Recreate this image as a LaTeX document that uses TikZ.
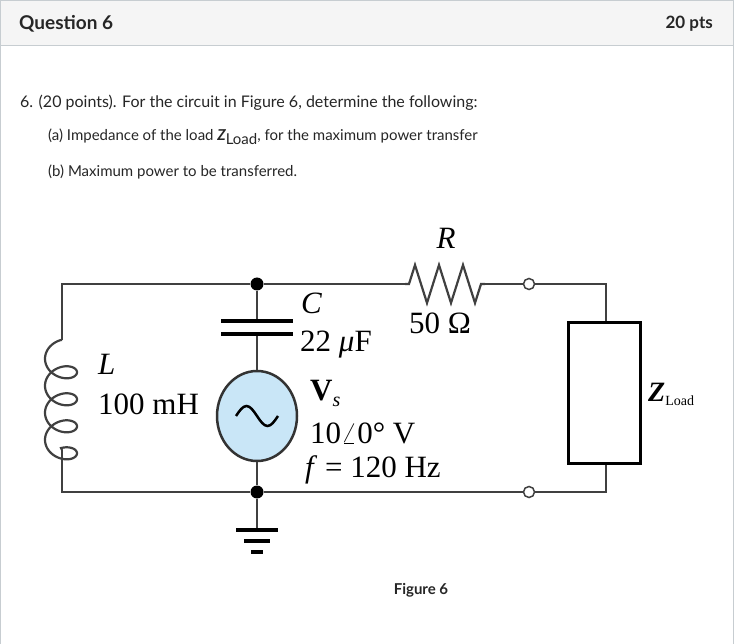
\documentclass[tikz,border=0pt]{standalone}
\usepackage{fontspec}
\setmainfont{Liberation Serif}
\newfontfamily\lato{Lato}
\usetikzlibrary{positioning,shapes.geometric}
\definecolor{hdrgray}{HTML}{F5F5F5}
\definecolor{brdgray}{HTML}{C7CDD1}
\definecolor{srcblue}{HTML}{C9E6F7}
\tikzset{
  wire/.style={line width=1.6pt,black!75},
  dot/.style={circle,fill=black,inner sep=0pt,minimum size=13pt},
  term/.style={circle,draw=black!75,line width=1.5pt,fill=white,inner sep=0pt,minimum size=11pt},
  ckt/.style={font=\fontsize{31}{33}\selectfont,inner sep=0pt,anchor=west},
  web/.style={font=\lato\fontsize{16}{18}\selectfont,inner sep=0pt,anchor=west,text=black!85}
}
\begin{document}
\begin{tikzpicture}[x=1pt,y=-1pt]
 \useasboundingbox (0,0) rectangle (734,644);
 % card and header
 \fill[white] (0,0) rectangle (734,644);
 \fill[hdrgray] (0,1) rectangle (733,46);
 \draw[brdgray,line width=1pt] (0.5,644) -- (0.5,1) -- (733.5,1) -- (733.5,644);
 \draw[brdgray,line width=1pt] (0.5,46) -- (733.5,46);
 \node[web,font=\lato\bfseries\fontsize{19}{21}\selectfont] (qtitle) at (19,24) {Question 6};
 \node[web,font=\lato\bfseries\fontsize{17}{19}\selectfont,anchor=east] (qpts) at (713,24) {20 pts};
 \node[web] (qtext) at (20,103) {6. (20 points). For the circuit in Figure 6, determine the following:};
 \node[web,font=\lato\fontsize{15}{17}\selectfont] (qa) at (48,137) {(a) Impedance of the load {\bfseries\itshape Z}\raisebox{-4pt}{Load}, for the maximum power transfer};
 \node[web,font=\lato\fontsize{15}{17}\selectfont] (qb) at (48,172) {(b) Maximum power to be transferred.};
 % junctions
 \coordinate (tl) at (62,284);
 \coordinate (bl) at (62,492);
 \coordinate (tr) at (606,284);
 \coordinate (br) at (606,492);
 \node[dot] (ntop) at (257,284) {};
 \node[dot] (nbot) at (257,492) {};
 \node[term] (ta) at (529,284) {};
 \node[term] (tb) at (529,492) {};
 \coordinate (ra) at (405,284);
 \coordinate (rb) at (485,284);
 \coordinate (ca) at (257,321);
 \coordinate (cb) at (257,334);
 \coordinate (la) at (62,340);
 \coordinate (lb) at (62,450);
 \coordinate (gnd) at (257,530);
 \node[draw=black,line width=3pt,minimum width=72pt,minimum height=140pt,inner sep=0pt] (zl) at (604,393) {};
 \node[ellipse,draw=black!80,line width=2.5pt,fill=srcblue,minimum width=80pt,minimum height=90pt,inner sep=0pt] (vs) at (257,416) {};
 % wires
 \draw[wire] (ra) -- (ntop) -- (tl) -- (la);
 \draw[wire] (lb) -- (bl) -- (nbot) -- (tb);
 \draw[wire] (rb) -- (ta) -- (tr) -- (zl.north -| tr);
 \draw[wire] (tb) -- (br) -- (zl.south -| br);
 \draw[wire] (ntop) -- (ca);
 \draw[wire] (cb) -- (vs.north);
 \draw[wire] (vs.south) -- (nbot) -- (gnd);
 % capacitor
 \draw[line width=4pt] ([xshift=-36pt]ca) -- ([xshift=36pt]ca);
 \draw[line width=4pt] ([xshift=-36pt]cb) -- ([xshift=36pt]cb);
 % resistor
 \draw[wire,line width=2.2pt,line join=miter] (ra) -- ++(4,0) -- ++(6,-19) -- ++(12,38) -- ++(12,-38) -- ++(12,38) -- ++(12,-38) -- ++(12,38) -- ++(6,-19) -- (rb);
 % inductor
 \draw[wire,line width=2.2pt,domain=0:25.13,samples=200,smooth,variable=\t]
   (la) -- plot ({61-16*sin(\t r)}, {340+4.3*\t-12*cos(\t r)+12}) -- (lb);
 % source symbol
 \draw[line width=2.5pt] (vs.center) ++(-21,0) sin ++(10.5,-10) cos ++(10.5,10) sin ++(10.5,10) cos ++(10.5,-10);
 % ground
 \draw[line width=4pt] (gnd) ++(-21,0) -- ++(42,0);
 \draw[line width=4pt] (gnd) ++(-13,11) -- ++(26,0);
 \draw[line width=4pt] (gnd) ++(-6,22) -- ++(12,0);
 % labels
 \node[ckt,anchor=center] (lR) at (446,238) {\itshape R};
 \node[ckt,anchor=center] (lRv) at (440,323) {50 Ω};
 \node[ckt] (lC) at (301,303) {\itshape C};
 \node[ckt] (lCv) at (300,345) {22 \textit{μ}F};
 \node[ckt] (lL) at (98,364) {\itshape L};
 \node[ckt] (lLv) at (98,404) {100 mH};
 \node[ckt] (lV) at (310,393) {\textbf{V}\raisebox{-6pt}{\fontsize{20}{22}\selectfont\itshape s}};
 \node[ckt] (lVv) at (310,433) {10$\angle$0\textdegree\ V};
 \node[ckt] (lf) at (305,470) {\itshape f\/ \upshape= 120 Hz};
 \node[ckt,font=\fontsize{28}{30}\selectfont] (lZ) at (648,394) {\textbf{\itshape Z}\raisebox{-4pt}{\fontsize{14}{16}\selectfont Load}};
 \node[web,font=\lato\bfseries\fontsize{15}{17}\selectfont,anchor=center] (fig) at (421,590) {Figure 6};
\end{tikzpicture}
\end{document}
